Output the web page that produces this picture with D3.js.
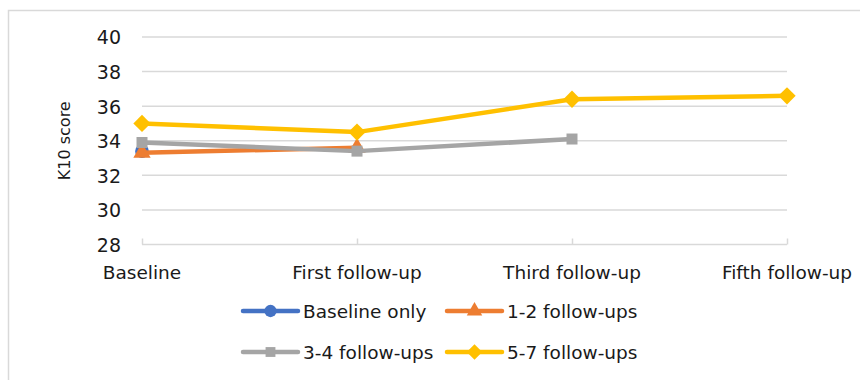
<!DOCTYPE html>
<html>
<head>
<meta charset="utf-8">
<script src="https://cdn.jsdelivr.net/npm/d3@7/dist/d3.min.js"></script>
<style>
  html, body { margin: 0; padding: 0; background: #fff; }
  svg text { font-family: "DejaVu Sans", sans-serif; fill: #1a1a1a; }
</style>
</head>
<body>
<svg id="chart" width="860" height="380"></svg>
<script>
// Mean K10 scores by number of follow-ups completed
const categories = ["Baseline", "First follow-up", "Third follow-up", "Fifth follow-up"];
const seriesNames = ["Baseline only", "1-2 follow-ups", "3-4 follow-ups", "5-7 follow-ups"];
const baselineOnly = [33.4, null, null, null];
const followUps12 = [33.3, 33.6, null, null];
const followUps34 = [33.9, 33.4, 34.1, null];
const followUps57 = [35.0, 34.5, 36.4, 36.6];
const yTicks = [28, 30, 32, 34, 36, 38, 40];
const yTitle = "K10 score";

const colors = ["#4472C4", "#ED7D31", "#A5A5A5", "#FFC000"];
const seriesValues = [baselineOnly, followUps12, followUps34, followUps57];

// marker shapes: circle, triangle, square, square-shaped diamond
const squareDiamond = {
  draw(ctx, size) {
    const r = Math.sqrt(size / 2);
    ctx.moveTo(0, -r); ctx.lineTo(r, 0); ctx.lineTo(0, r); ctx.lineTo(-r, 0); ctx.closePath();
  }
};
const symbols = [d3.symbolCircle, d3.symbolTriangle, d3.symbolSquare, squareDiamond];
const symbolSizes = [150, 130, 121, 150];

const svg = d3.select("#chart");

// chart area frame
svg.append("rect")
  .attr("x", 8.5).attr("y", 10.5)
  .attr("width", 900).attr("height", 400)
  .attr("fill", "none").attr("stroke", "#d9d9d9").attr("stroke-width", 1.5);

const x = d3.scalePoint().domain(categories).range([142, 787]);
const y = d3.scaleLinear().domain([28, 40]).range([244.5, 37]);

// horizontal gridlines
svg.append("g").selectAll("line")
  .data(yTicks.slice(1))
  .join("line")
  .attr("x1", 142).attr("x2", 787)
  .attr("y1", d => y(d)).attr("y2", d => y(d))
  .attr("stroke", "#d9d9d9").attr("stroke-width", 1.5);

// category axis with upward ticks
const xAxis = svg.append("g")
  .attr("transform", `translate(0,${y(28)})`)
  .call(d3.axisTop(x).tickSize(6).tickFormat(""));
xAxis.select(".domain").attr("d", `M142,0H787`).attr("stroke", "#d9d9d9").attr("stroke-width", 1.5);
xAxis.selectAll(".tick line").attr("stroke", "#d9d9d9").attr("stroke-width", 1.5);

// category labels
svg.append("g").selectAll("text")
  .data(categories)
  .join("text")
  .attr("x", d => x(d)).attr("y", 279)
  .attr("text-anchor", "middle")
  .attr("font-size", 18.5)
  .text(d => d);

// value axis labels
const yAxis = svg.append("g")
  .attr("transform", `translate(121,0)`)
  .call(d3.axisLeft(y).tickValues(yTicks).tickSize(0).tickPadding(0));
yAxis.select(".domain").remove();
yAxis.selectAll("text")
  .attr("font-size", 19)
  .attr("font-family", "DejaVu Sans, sans-serif")
  .attr("fill", "#1a1a1a")
  .attr("text-anchor", "end")
  .attr("dy", "0.36em");

// value axis title
svg.append("text")
  .attr("transform", `translate(70,${(y(28) + y(40)) / 2}) rotate(-90)`)
  .attr("text-anchor", "middle")
  .attr("font-size", 16)
  .text(yTitle);

// series lines and markers
const line = d3.line()
  .defined(d => d.v != null)
  .x(d => x(d.c)).y(d => y(d.v));

seriesValues.forEach((vals, i) => {
  const pts = vals.map((v, j) => ({ c: categories[j], v }));
  const g = svg.append("g");
  g.append("path")
    .datum(pts)
    .attr("d", line)
    .attr("fill", "none")
    .attr("stroke", colors[i])
    .attr("stroke-width", 4.5)
    .attr("stroke-linejoin", "round")
    .attr("stroke-linecap", "round");
  g.selectAll("path.mk")
    .data(pts.filter(d => d.v != null))
    .join("path")
    .attr("class", "mk")
    .attr("transform", d => `translate(${x(d.c)},${y(d.v)})`)
    .attr("d", d3.symbol(symbols[i], symbolSizes[i]))
    .attr("fill", colors[i]);
});

// legend
const legendPos = [
  { lx: 243, ly: 311 }, { lx: 447, ly: 311 },
  { lx: 243, ly: 352 }, { lx: 447, ly: 352 }
];
seriesNames.forEach((name, i) => {
  const p = legendPos[i];
  const g = svg.append("g").attr("transform", `translate(${p.lx},${p.ly})`);
  g.append("line")
    .attr("x1", 0).attr("x2", 55)
    .attr("stroke", colors[i]).attr("stroke-width", 4.5)
    .attr("stroke-linecap", "round");
  g.append("path")
    .attr("transform", "translate(27.5,0)")
    .attr("d", d3.symbol(symbols[i], symbolSizes[i] * 0.8))
    .attr("fill", colors[i]);
  g.append("text")
    .attr("x", 60).attr("dy", "0.36em")
    .attr("font-size", 18.5)
    .text(name);
});
</script>
</body>
</html>
